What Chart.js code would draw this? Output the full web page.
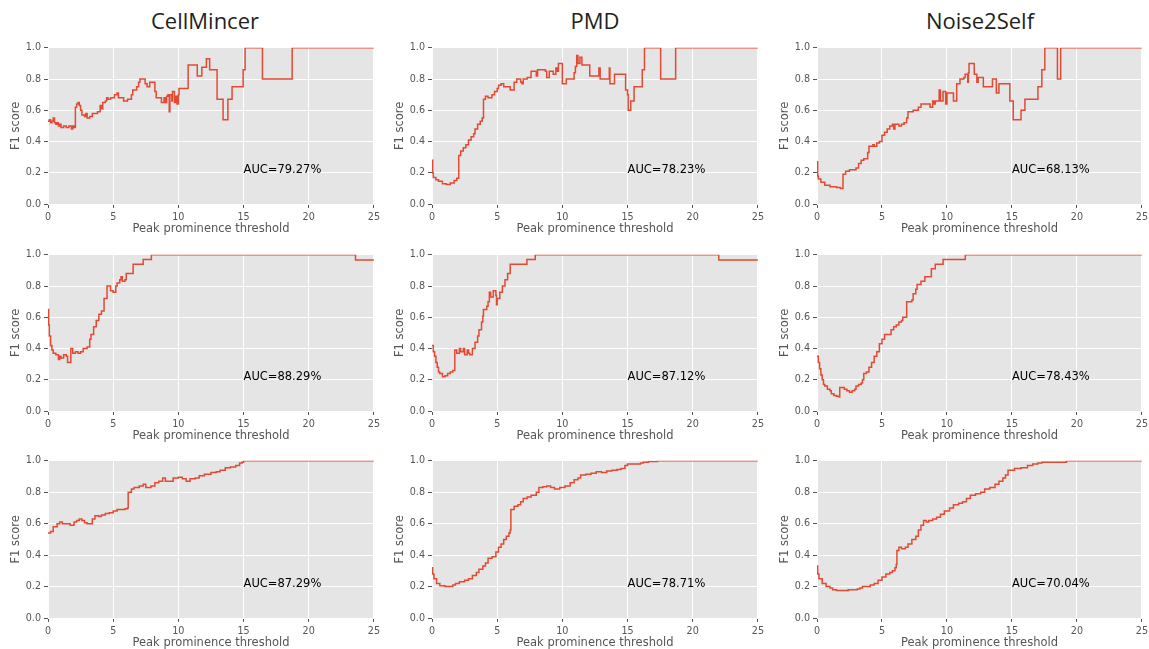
<!DOCTYPE html>
<html lang="en">
<head>
<meta charset="UTF-8">
<title>F1 score vs peak prominence threshold</title>
<script src="https://cdn.jsdelivr.net/npm/chart.js"></script>
<style>
  html,body{margin:0;padding:0;background:#fff;overflow:hidden}
  #page{position:relative;width:1149px;height:649px;overflow:hidden}
  .title{position:absolute;top:5px;width:200px;margin-left:-100px;text-align:center;
         font-family:"Open Sans",sans-serif;font-size:22px;color:#231f20}
  .panel{position:absolute}
</style>
</head>
<body>
<div id="page"></div>
<script>
// column titles and AUC labels
const methods=['CellMincer','PMD','Noise2Self'];
const aucLabels=[
  ['AUC=79.27%','AUC=78.23%','AUC=68.13%'],
  ['AUC=88.29%','AUC=87.12%','AUC=78.43%'],
  ['AUC=87.29%','AUC=78.71%','AUC=70.04%']
];
const xTicks=[0,5,10,15,20,25];
const yTicks=[0,0.2,0.4,0.6,0.8,1.0];

// [threshold, F1] change points, value holds until next point
const r1CellMincer=[[0,0.53],[0.1,0.54],[0.2,0.52],[0.3,0.53],[0.4,0.55],[0.5,0.52],[0.6,0.51],[0.7,0.52],[0.8,0.50],[0.9,0.51],[1.0,0.49],[1.2,0.50],[1.4,0.49],[1.6,0.50],[1.8,0.48],[1.9,0.50],[2.0,0.49],[2.1,0.62],[2.2,0.64],[2.3,0.65],[2.4,0.63],[2.5,0.60],[2.6,0.57],[2.8,0.56],[2.9,0.58],[3.0,0.55],[3.2,0.56],[3.4,0.58],[3.6,0.58],[3.8,0.59],[4.0,0.63],[4.1,0.61],[4.2,0.65],[4.4,0.66],[4.5,0.68],[4.6,0.67],[4.8,0.68],[5.1,0.70],[5.3,0.71],[5.4,0.68],[5.8,0.66],[6.1,0.67],[6.4,0.70],[6.5,0.73],[6.8,0.75],[6.95,0.78],[7.05,0.80],[7.45,0.77],[7.6,0.75],[7.8,0.78],[8.2,0.72],[8.3,0.68],[8.7,0.65],[8.9,0.68],[9.0,0.65],[9.1,0.69],[9.2,0.70],[9.3,0.59],[9.35,0.70],[9.5,0.66],[9.55,0.72],[9.7,0.65],[9.8,0.69],[9.9,0.64],[10.0,0.70],[10.05,0.74],[10.75,0.89],[11.45,0.82],[11.8,0.875],[12.15,0.93],[12.4,0.86],[12.97,0.67],[13.43,0.54],[13.8,0.67],[14.12,0.75],[14.97,0.86],[15.12,1.0],[16.45,0.80],[18.73,1.0],[25,1.0]];
const r1PMD=[[0,0.28],[0.05,0.20],[0.1,0.17],[0.3,0.155],[0.5,0.145],[0.8,0.13],[1.1,0.125],[1.4,0.135],[1.7,0.15],[1.9,0.165],[2.05,0.31],[2.2,0.34],[2.4,0.36],[2.6,0.38],[2.8,0.41],[3.0,0.43],[3.2,0.45],[3.3,0.48],[3.5,0.51],[3.7,0.53],[3.85,0.55],[3.95,0.67],[4.1,0.69],[4.3,0.68],[4.6,0.70],[4.8,0.72],[5.0,0.74],[5.1,0.76],[5.3,0.77],[5.5,0.75],[6.0,0.73],[6.3,0.78],[6.5,0.80],[6.8,0.78],[6.9,0.77],[7.0,0.80],[7.3,0.81],[7.6,0.85],[8.0,0.82],[8.1,0.86],[8.7,0.85],[8.8,0.81],[9.0,0.85],[9.3,0.83],[9.5,0.87],[9.6,0.85],[9.7,0.90],[10.0,0.77],[10.3,0.80],[10.9,0.84],[11.0,0.88],[11.1,0.95],[11.2,0.90],[11.35,0.94],[11.5,0.89],[12.1,0.82],[12.8,0.87],[12.9,0.80],[13.6,0.87],[13.65,0.77],[14.0,0.83],[14.85,0.73],[15.0,0.70],[15.05,0.60],[15.25,0.66],[15.5,0.75],[16.13,0.86],[16.3,1.0],[17.54,0.80],[18.69,1.0],[25,1.0]];
const r1Noise2Self=[[0,0.27],[0.05,0.18],[0.1,0.16],[0.3,0.14],[0.6,0.12],[1.0,0.11],[1.5,0.105],[1.8,0.10],[2.0,0.19],[2.2,0.21],[2.5,0.22],[3.0,0.23],[3.2,0.26],[3.4,0.28],[3.6,0.29],[3.9,0.33],[4.0,0.37],[4.3,0.38],[4.4,0.37],[4.6,0.39],[4.8,0.40],[5.0,0.44],[5.2,0.46],[5.4,0.48],[5.6,0.50],[5.8,0.51],[5.9,0.48],[6.0,0.51],[6.3,0.50],[6.5,0.51],[6.7,0.52],[6.9,0.55],[7.0,0.59],[7.4,0.60],[7.8,0.62],[8.0,0.64],[8.7,0.62],[8.9,0.66],[9.0,0.64],[9.1,0.66],[9.4,0.73],[9.5,0.66],[9.7,0.72],[9.9,0.64],[10.0,0.71],[10.5,0.66],[10.75,0.77],[11.0,0.80],[11.3,0.81],[11.4,0.83],[11.6,0.78],[11.65,0.84],[11.7,0.90],[12.1,0.83],[12.3,0.78],[12.4,0.81],[12.8,0.75],[13.5,0.80],[13.8,0.71],[14.0,0.77],[14.84,0.66],[15.1,0.54],[15.7,0.60],[16.0,0.67],[17.0,0.75],[17.3,0.86],[17.53,1.0],[18.5,0.80],[18.75,1.0],[25,1.0]];

const r2CellMincer=[[0,0.65],[0.05,0.55],[0.1,0.48],[0.2,0.42],[0.3,0.39],[0.4,0.37],[0.6,0.36],[0.8,0.33],[0.9,0.35],[1.0,0.34],[1.2,0.36],[1.4,0.35],[1.5,0.31],[1.75,0.40],[1.9,0.37],[2.1,0.38],[2.3,0.37],[2.5,0.38],[2.7,0.40],[3.0,0.41],[3.2,0.46],[3.3,0.49],[3.5,0.54],[3.7,0.58],[3.9,0.62],[4.1,0.64],[4.3,0.72],[4.53,0.80],[4.8,0.77],[5.0,0.76],[5.2,0.80],[5.3,0.82],[5.5,0.84],[5.6,0.86],[5.7,0.83],[5.9,0.84],[6.0,0.88],[6.53,0.94],[7.3,0.97],[7.93,1.0],[23.59,0.967],[25,0.967]];
const r2PMD=[[0,0.42],[0.1,0.38],[0.2,0.35],[0.3,0.31],[0.4,0.28],[0.5,0.25],[0.6,0.24],[0.8,0.22],[1.0,0.225],[1.2,0.24],[1.4,0.25],[1.6,0.26],[1.75,0.39],[1.9,0.37],[2.1,0.40],[2.2,0.38],[2.4,0.40],[2.5,0.36],[2.7,0.39],[2.8,0.37],[2.9,0.36],[3.1,0.40],[3.3,0.44],[3.5,0.48],[3.6,0.52],[3.8,0.57],[3.9,0.61],[3.95,0.65],[4.2,0.67],[4.3,0.70],[4.4,0.76],[4.5,0.73],[4.7,0.77],[4.9,0.74],[4.95,0.68],[5.0,0.72],[5.2,0.76],[5.4,0.80],[5.6,0.84],[5.8,0.88],[6.0,0.94],[7.28,0.97],[7.92,1.0],[22.0,0.967],[25,0.967]];
const r2Noise2Self=[[0,0.35],[0.1,0.31],[0.2,0.27],[0.3,0.23],[0.4,0.20],[0.5,0.17],[0.6,0.16],[0.8,0.14],[1.0,0.13],[1.1,0.11],[1.3,0.10],[1.5,0.095],[1.7,0.09],[1.75,0.15],[2.0,0.15],[2.1,0.14],[2.3,0.13],[2.5,0.12],[2.7,0.13],[2.9,0.14],[3.0,0.16],[3.2,0.17],[3.4,0.18],[3.5,0.20],[3.6,0.24],[3.8,0.25],[4.0,0.28],[4.2,0.31],[4.4,0.35],[4.6,0.38],[4.8,0.43],[5.0,0.46],[5.2,0.49],[5.5,0.49],[5.7,0.52],[5.9,0.54],[6.1,0.55],[6.3,0.57],[6.5,0.58],[6.6,0.60],[6.9,0.70],[7.3,0.71],[7.4,0.75],[7.6,0.78],[7.7,0.81],[8.0,0.83],[8.3,0.86],[8.8,0.91],[9.1,0.94],[9.7,0.97],[11.41,1.0],[25,1.0]];

const r3CellMincer=[[0,0.54],[0.2,0.55],[0.4,0.58],[0.7,0.60],[0.9,0.61],[1.1,0.60],[1.5,0.60],[1.7,0.59],[2.0,0.61],[2.2,0.62],[2.4,0.63],[2.6,0.62],[2.8,0.605],[3.0,0.60],[3.2,0.60],[3.4,0.63],[3.6,0.65],[3.9,0.645],[4.1,0.655],[4.4,0.665],[4.7,0.67],[5.0,0.68],[5.3,0.69],[5.6,0.69],[5.9,0.695],[6.1,0.70],[6.15,0.80],[6.4,0.82],[6.6,0.83],[7.0,0.84],[7.3,0.85],[7.5,0.83],[7.9,0.84],[8.2,0.86],[8.5,0.87],[8.8,0.89],[9.0,0.87],[9.3,0.87],[9.6,0.89],[10.0,0.895],[10.3,0.885],[10.6,0.87],[10.9,0.885],[11.3,0.89],[11.6,0.905],[12.0,0.915],[12.5,0.925],[12.9,0.93],[13.2,0.94],[13.6,0.955],[14.0,0.96],[14.4,0.97],[14.7,0.985],[14.9,0.99],[15.0,1.0],[25,1.0]];
const r3PMD=[[0,0.32],[0.05,0.28],[0.15,0.25],[0.35,0.22],[0.6,0.205],[1.0,0.20],[1.4,0.20],[1.6,0.21],[1.8,0.22],[2.1,0.23],[2.5,0.24],[2.8,0.25],[3.1,0.27],[3.4,0.29],[3.6,0.31],[3.9,0.33],[4.1,0.35],[4.3,0.38],[4.6,0.39],[4.9,0.42],[5.1,0.45],[5.3,0.47],[5.5,0.50],[5.7,0.52],[5.9,0.54],[6.0,0.56],[6.05,0.69],[6.3,0.71],[6.6,0.72],[6.8,0.74],[7.0,0.76],[7.3,0.77],[7.6,0.78],[8.0,0.80],[8.2,0.83],[8.5,0.835],[8.8,0.84],[9.1,0.83],[9.4,0.82],[9.8,0.83],[10.2,0.84],[10.6,0.86],[10.9,0.88],[11.2,0.89],[11.4,0.91],[11.8,0.915],[12.2,0.92],[12.6,0.93],[13.0,0.925],[13.4,0.935],[13.8,0.94],[14.2,0.945],[14.5,0.95],[14.8,0.97],[15.0,0.98],[16.0,0.985],[16.2,0.99],[16.6,0.995],[17.3,1.0],[25,1.0]];
const r3Noise2Self=[[0,0.33],[0.05,0.28],[0.15,0.25],[0.4,0.22],[0.7,0.20],[1.0,0.19],[1.2,0.18],[1.5,0.175],[2.4,0.18],[2.8,0.18],[3.1,0.185],[3.3,0.19],[3.5,0.20],[3.8,0.20],[4.1,0.21],[4.4,0.22],[4.7,0.24],[5.0,0.26],[5.3,0.28],[5.6,0.29],[5.8,0.30],[6.0,0.32],[6.1,0.34],[6.15,0.43],[6.3,0.45],[6.5,0.44],[6.8,0.45],[7.0,0.47],[7.3,0.50],[7.6,0.52],[7.8,0.56],[8.0,0.59],[8.2,0.62],[8.4,0.61],[8.6,0.62],[8.9,0.63],[9.2,0.64],[9.5,0.66],[9.8,0.68],[10.2,0.70],[10.5,0.72],[10.9,0.73],[11.2,0.74],[11.5,0.76],[11.8,0.78],[12.2,0.79],[12.6,0.80],[12.9,0.82],[13.3,0.83],[13.7,0.85],[14.0,0.87],[14.3,0.89],[14.5,0.91],[14.7,0.94],[15.2,0.95],[15.7,0.955],[16.2,0.97],[16.6,0.98],[17.0,0.985],[17.3,0.99],[19.2,1.0],[25,1.0]];

const grid=[
  [r1CellMincer,r1PMD,r1Noise2Self],
  [r2CellMincer,r2PMD,r2Noise2Self],
  [r3CellMincer,r3PMD,r3Noise2Self]
];

// layout (plot area edges in page pixels)
const plotLeft=[48,432,817], plotRight=[374,758,1142];
const plotTop=[47,254,460], plotBottom=[204,411,618];
const titleX=[205,595,980];
const yAxisW=48, xAxisH=33, padTop=8, padRight=10;

const page=document.getElementById('page');
methods.forEach((m,c)=>{
  const d=document.createElement('div');
  d.className='title';
  d.style.left=titleX[c]+'px';
  d.textContent=m;
  page.appendChild(d);
});

const plotBg={
  id:'plotBg',
  beforeDraw(chart){
    const a=chart.chartArea, ctx=chart.ctx;
    ctx.save();
    ctx.fillStyle='#e5e5e5';
    ctx.fillRect(a.left,a.top,a.right-a.left,a.bottom-a.top);
    ctx.restore();
  }
};
const aucText={
  id:'aucText',
  afterDatasetsDraw(chart,args,opts){
    const ctx=chart.ctx;
    ctx.save();
    ctx.font='11.5px "DejaVu Sans"';
    ctx.fillStyle='#000';
    ctx.textAlign='left';
    ctx.textBaseline='alphabetic';
    ctx.fillText(opts.text,chart.scales.x.getPixelForValue(15),chart.scales.y.getPixelForValue(0.2));
    ctx.restore();
  }
};

const tickFont={family:'DejaVu Sans',size:9.6};
const labelFont={family:'DejaVu Sans',size:11.5};

for(let r=0;r<3;r++){
  for(let c=0;c<3;c++){
    const wrap=document.createElement('div');
    wrap.className='panel';
    const w=yAxisW+(plotRight[c]-plotLeft[c])+padRight;
    const h=padTop+(plotBottom[r]-plotTop[r])+xAxisH;
    wrap.style.left=(plotLeft[c]-yAxisW)+'px';
    wrap.style.top=(plotTop[r]-padTop)+'px';
    wrap.style.width=w+'px';
    wrap.style.height=h+'px';
    const cv=document.createElement('canvas');
    wrap.appendChild(cv);
    page.appendChild(wrap);

    const pts=grid[r][c].map(p=>({x:p[0],y:p[1]}));
    new Chart(cv,{
      type:'line',
      // 'before': hold previous value horizontally, then step at the new x
      data:{datasets:[{data:pts,borderColor:'#e24a33',borderWidth:1.5,pointRadius:0,stepped:'before',fill:false}]},
      options:{
        responsive:true,maintainAspectRatio:false,animation:false,
        layout:{padding:{top:padTop,right:padRight,left:0,bottom:0}},
        plugins:{legend:{display:false},tooltip:{enabled:false},aucText:{text:aucLabels[r][c]}},
        scales:{
          x:{type:'linear',min:0,max:25,
             afterBuildTicks:s=>{s.ticks=xTicks.map(v=>({value:v}));},
             afterFit:s=>{s.height=xAxisH;},
             grid:{color:'#fff',lineWidth:1,tickLength:4,tickColor:'#555'},
             border:{display:false},
             ticks:{font:tickFont,color:'#555',padding:4,maxRotation:0,callback:v=>String(v)},
             title:{display:true,text:'Peak prominence threshold',font:labelFont,color:'#555',padding:{top:0,bottom:1}}},
          y:{min:0,max:1,
             afterBuildTicks:s=>{s.ticks=yTicks.map(v=>({value:v}));},
             afterFit:s=>{s.width=yAxisW;},
             grid:{color:'#fff',lineWidth:1,tickLength:4,tickColor:'#555'},
             border:{display:false},
             ticks:{font:tickFont,color:'#555',padding:3,callback:v=>Number(v).toFixed(1)},
             title:{display:true,text:'F1 score',font:labelFont,color:'#555',padding:{top:9,bottom:0}}}
        }
      },
      plugins:[plotBg,aucText]
    });
  }
}
</script>
</body>
</html>
